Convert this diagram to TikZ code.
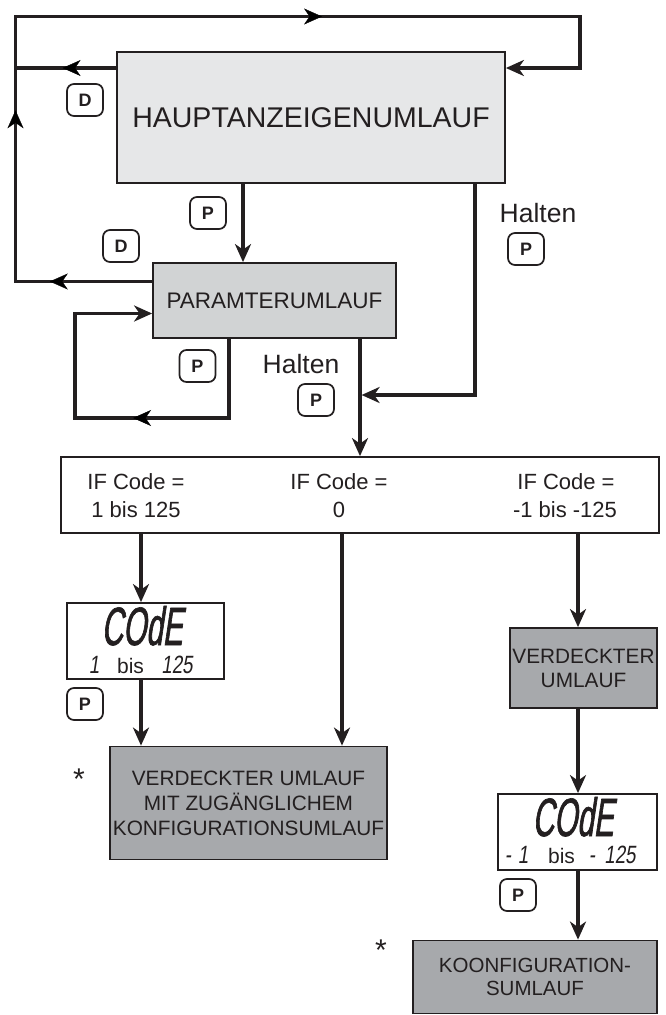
\documentclass[tikz,border=0pt]{standalone}
\usepackage{fontspec}
\setmainfont{Liberation Sans}
\newfontfamily\lcdfont[FakeStretch=0.55,FakeSlant=0.15,FakeBold=1.2]{Liberation Sans}
\newfontfamily\lcdsmall[FakeStretch=0.75,FakeSlant=0.15]{Liberation Sans}
\usetikzlibrary{arrows.meta,decorations.markings}
\definecolor{ink}{HTML}{231F20}
\definecolor{fillA}{HTML}{E6E7E8}
\definecolor{fillB}{HTML}{D1D3D4}
\definecolor{fillC}{HTML}{A7A9AC}
\tikzset{
  >={Stealth[length=18pt,width=16pt,inset=5.5pt]},
  conn/.style={draw=ink, line width=3.2pt, line join=miter},
  midtip/.style={decorate, decoration={markings, mark=at position #1 with {\arrow{>}}}},
  box/.style={draw=ink, line width=1.8pt, inner sep=0pt, align=center, text=ink},
  btn/.style={draw=ink, line width=1.7pt, rounded corners=7pt, minimum width=36pt,
    minimum height=32pt, inner sep=0pt, font=\fontsize{18}{18}\bfseries\selectfont, text=ink},
  lbl/.style={text=ink, inner sep=0pt},
}
\begin{document}
\begin{tikzpicture}[x=1pt,y=-1pt]
\useasboundingbox (0,0) rectangle (666,1015);
% guide coordinates
\coordinate (L) at (15.5,0);
\coordinate (T) at (0,16.5);
\coordinate (R) at (580,0);
\coordinate (yM) at (0,68);
\coordinate (yPo) at (0,281.5);
\coordinate (yPi) at (0,313.5);
\coordinate (xLL) at (75,0);
\coordinate (xLR) at (229,0);
\coordinate (yLB) at (0,418);
\coordinate (xA) at (243,0);
\coordinate (xH) at (475,0);
\coordinate (yH) at (0,395);
\coordinate (xP) at (360,0);
\coordinate (xC1) at (141,0);
\coordinate (xC2) at (342,0);
\coordinate (xC3) at (578,0);

% boxes
\node[box, fill=fillA, minimum width=388pt, minimum height=131pt,
  font=\fontsize{28.5}{30}\selectfont] (main) at (311,117.5) {HAUPTANZEIGENUMLAUF};
\node[box, fill=fillB, minimum width=243pt, minimum height=75pt,
  font=\fontsize{22.5}{26}\selectfont] (param) at (274.5,300.5) {PARAMTERUMLAUF};
\node[box, fill=white, minimum width=598pt, minimum height=76pt] (ifbox) at (360,495) {};
\node[box, fill=white, minimum width=157pt, minimum height=76pt] (disp1) at (145.5,641) {};
\node[box, fill=fillC, minimum width=277pt, minimum height=113pt,
  font=\fontsize{20.8}{25}\selectfont] (verdbig) at (248.5,803)
  {VERDECKTER UMLAUF\\MIT ZUGÄNGLICHEM\\KONFIGURATIONSUMLAUF};
\node[box, fill=fillC, minimum width=147pt, minimum height=80pt,
  font=\fontsize{20.8}{24}\selectfont] (verdR) at (583.5,668) {VERDECKTER\\UMLAUF};
\node[box, fill=white, minimum width=159pt, minimum height=76pt] (disp2) at (577.5,832) {};
\node[box, fill=fillC, minimum width=244pt, minimum height=73pt,
  font=\fontsize{20.5}{22.5}\selectfont] (konf) at (535,977) {KOONFIGURATION-\\SUMLAUF};

% IF texts
\node[lbl, anchor=base, font=\fontsize{22}{24}\selectfont] (c1a) at (136,489) {IF Code =};
\node[lbl, anchor=base, font=\fontsize{22}{24}\selectfont] (c1b) at (136,517) {1 bis 125};
\node[lbl, anchor=base, font=\fontsize{22}{24}\selectfont] (c2a) at (339,489) {IF Code =};
\node[lbl, anchor=base, font=\fontsize{22}{24}\selectfont] (c2b) at (339,517) {0};
\node[lbl, anchor=base, font=\fontsize{22}{24}\selectfont] (c3a) at (566,489) {IF Code =};
\node[lbl, anchor=base, font=\fontsize{22}{24}\selectfont] (c3b) at (565,517) {-1 bis -125};

% display 1
\node[lbl, anchor=base, font=\lcdfont\fontsize{54}{54}\selectfont] (d1code) at (142,645) {COdE};
\node[lbl, anchor=base, font=\lcdsmall\fontsize{25}{25}\selectfont] (d1a) at (94,673) {1};
\node[lbl, anchor=base, font=\fontsize{21}{21}\selectfont] (d1b) at (130.5,673) {bis};
\node[lbl, anchor=base, font=\lcdsmall\fontsize{25}{25}\selectfont] (d1c) at (177,673) {125};

% display 2
\node[lbl, anchor=base, font=\lcdfont\fontsize{54}{54}\selectfont] (d2code) at (573,836) {COdE};
\node[lbl, anchor=base, font=\lcdsmall\fontsize{25}{25}\selectfont] (d2a) at (508,863) {-};
\node[lbl, anchor=base, font=\lcdsmall\fontsize{25}{25}\selectfont] (d2b) at (523,863) {1};
\node[lbl, anchor=base, font=\fontsize{21}{21}\selectfont] (d2c) at (561.5,863) {bis};
\node[lbl, anchor=base, font=\lcdsmall\fontsize{25}{25}\selectfont] (d2d) at (592,863) {-};
\node[lbl, anchor=base, font=\lcdsmall\fontsize{25}{25}\selectfont] (d2e) at (620,863) {125};

% Halten labels and stars
\node[lbl, anchor=base, font=\fontsize{26.5}{26}\selectfont] (halt1) at (538,222) {Halten};
\node[lbl, anchor=base, font=\fontsize{26.5}{26}\selectfont] (halt2) at (301,373) {Halten};
\node[lbl, anchor=base, font=\fontsize{30}{30}\selectfont] (star1) at (79,789) {*};
\node[lbl, anchor=base, font=\fontsize{30}{30}\selectfont] (star2) at (381,960) {*};

% buttons
\node[btn] (bD1) at (85,100) {D};
\node[btn] (bP1) at (208,213) {P};
\node[btn] (bD2) at (121,246) {D};
\node[btn] (bPR) at (526,249) {P};
\node[btn] (bPL) at (197.5,366) {P};
\node[btn] (bPH) at (316,400) {P};
\node[btn] (bPd1) at (85,704) {P};
\node[btn] (bPd2) at (518,895) {P};

% outer rail
\draw[conn,->] (param.west |- yPo) -- (L |- yPo) -- (L |- T) -- (R |- T) -- (R |- yM) -- (main.east |- yM);
\draw[conn] (main.west |- yM) -- (L |- yM);
\path[color=ink, midtip=0.749] (param.west |- yPo) -- (L |- yPo);
\path[color=ink, midtip=0.646] (L |- yPo) -- (L |- T);
\path[color=ink, midtip=0.543] (L |- T) -- (R |- T);
\path[color=ink, midtip=0.532] (main.west |- yM) -- (L |- yM);

% self loop
\draw[conn,->] (param.south -| xLR) -- (xLR |- yLB) -- (xLL |- yLB) -- (xLL |- yPi) -- (param.west |- yPi);
\path[color=ink, midtip=0.623] (xLR |- yLB) -- (xLL |- yLB);

% main flows
\draw[conn,->] (main.south -| xA) -- (param.north -| xA);
\draw[conn,->] (main.south -| xH) -- (xH |- yH) -- ([xshift=1.6pt]xP |- yH);
\draw[conn,->] (param.south -| xP) -- (ifbox.north -| xP);
\draw[conn,->] (ifbox.south -| xC1) -- (disp1.north -| xC1);
\draw[conn,->] (ifbox.south -| xC2) -- (verdbig.north -| xC2);
\draw[conn,->] (ifbox.south -| xC3) -- (verdR.north -| xC3);
\draw[conn,->] (disp1.south -| xC1) -- (verdbig.north -| xC1);
\draw[conn,->] (verdR.south -| xC3) -- (disp2.north -| xC3);
\draw[conn,->] (disp2.south -| xC3) -- (konf.north -| xC3);
\end{tikzpicture}
\end{document}
